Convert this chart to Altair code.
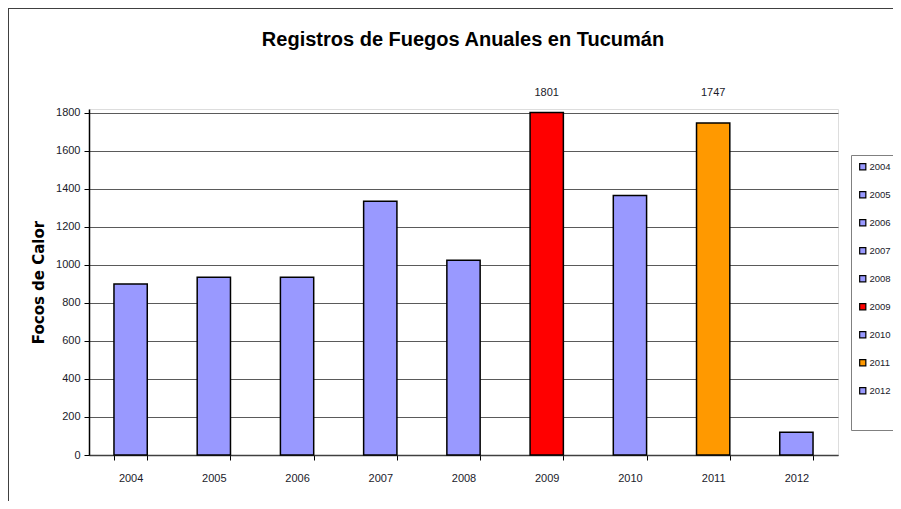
import altair as alt
import pandas as pd

# ---- data ----
years = ["2004", "2005", "2006", "2007", "2008", "2009", "2010", "2011", "2012"]
values = [900, 935, 935, 1335, 1025, 1801, 1365, 1747, 120]
colors = ["#9999FF", "#9999FF", "#9999FF", "#9999FF", "#9999FF",
          "#FF0000", "#9999FF", "#FF9900", "#9999FF"]
label_years = ["2009", "2011"]
label_values = [1801, 1747]
y_ticks = [0, 200, 400, 600, 800, 1000, 1200, 1400, 1600, 1800]
title_text = ["Registros de Fuegos Anuales en Tucumán"]

FONT = "Liberation Sans"
TXT = "#1a1a2a"

df = pd.DataFrame({"year": years, "value": values})
df_lab = pd.DataFrame({"year": label_years, "value": label_values})
df_title = pd.DataFrame({"t": title_text})

x_enc = alt.X(
    "year:N",
    scale=alt.Scale(domain=years, paddingInner=0.6, paddingOuter=0.3),
    axis=alt.Axis(
        title=None, labelAngle=0, tickBand="extent", grid=False,
        tickColor="#000000", tickSize=5, tickWidth=1,
        domainColor="#404040", domainWidth=1.5,
        labelPadding=12, labelFont=FONT, labelFontSize=11, labelColor=TXT,
    ),
)

bars = alt.Chart(df).mark_bar(stroke="#000000", strokeWidth=1.5).encode(
    x=x_enc,
    y=alt.Y(
        "value:Q",
        scale=alt.Scale(domain=[0, 1820], nice=False),
        axis=alt.Axis(
            values=y_ticks, format="d", grid=True, gridColor="#5a5a5a", gridWidth=1,
            domainColor="#000000", domainWidth=1.5,
            tickColor="#000000", tickSize=5, labelPadding=4,
            labelFont=FONT, labelFontSize=11, labelColor=TXT,
            title="Focos de Calor", titleFont="DejaVu Sans", titleFontSize=15,
            titleFontWeight="bold", titleColor="#000000", titlePadding=9,
        ),
    ),
    color=alt.Color(
        "year:N",
        scale=alt.Scale(domain=years, range=colors),
        legend=alt.Legend(
            title=" ", titleOrient="bottom", titleFontSize=12, titlePadding=16,
            orient="none", legendX=762, legendY=46,
            strokeColor="#808080", padding=7, rowPadding=16,
            symbolType="square", symbolSize=38,
            symbolStrokeColor="#000000", symbolStrokeWidth=1.2,
            labelFont=FONT, labelFontSize=9.5, labelColor=TXT,
            labelOffset=2,
        ),
    ),
)

labels = alt.Chart(df_lab).mark_text(
    font=FONT, fontSize=11, color=TXT, baseline="middle"
).encode(
    x=alt.X("year:N", scale=alt.Scale(domain=years)),
    y=alt.value(-16),
    text="value:Q",
)

title = alt.Chart(df_title).mark_text(
    font=FONT, fontSize=20, fontWeight="bold", color="#000000",
    align="center", baseline="middle"
).encode(
    x=alt.value(374),
    y=alt.value(-69),
    text="t:N",
)

frame = alt.Chart(alt.Data(values=[{"a": 1}])).mark_rect(
    filled=False, stroke="#404040", strokeWidth=2
).encode(
    x=alt.value(-81), x2=alt.value(900),
    y=alt.value(-101), y2=alt.value(500),
)

chart = alt.layer(frame, bars, labels, title).properties(
    width=749,
    height=346,
    autosize=alt.AutoSizeParams(type="none"),
    padding={"left": 81, "top": 101, "right": 55, "bottom": 46},
).configure_view(stroke="#808080", strokeWidth=1).configure(background="white")

chart.save("out.html", embed_options={"renderer": "svg", "actions": False})
